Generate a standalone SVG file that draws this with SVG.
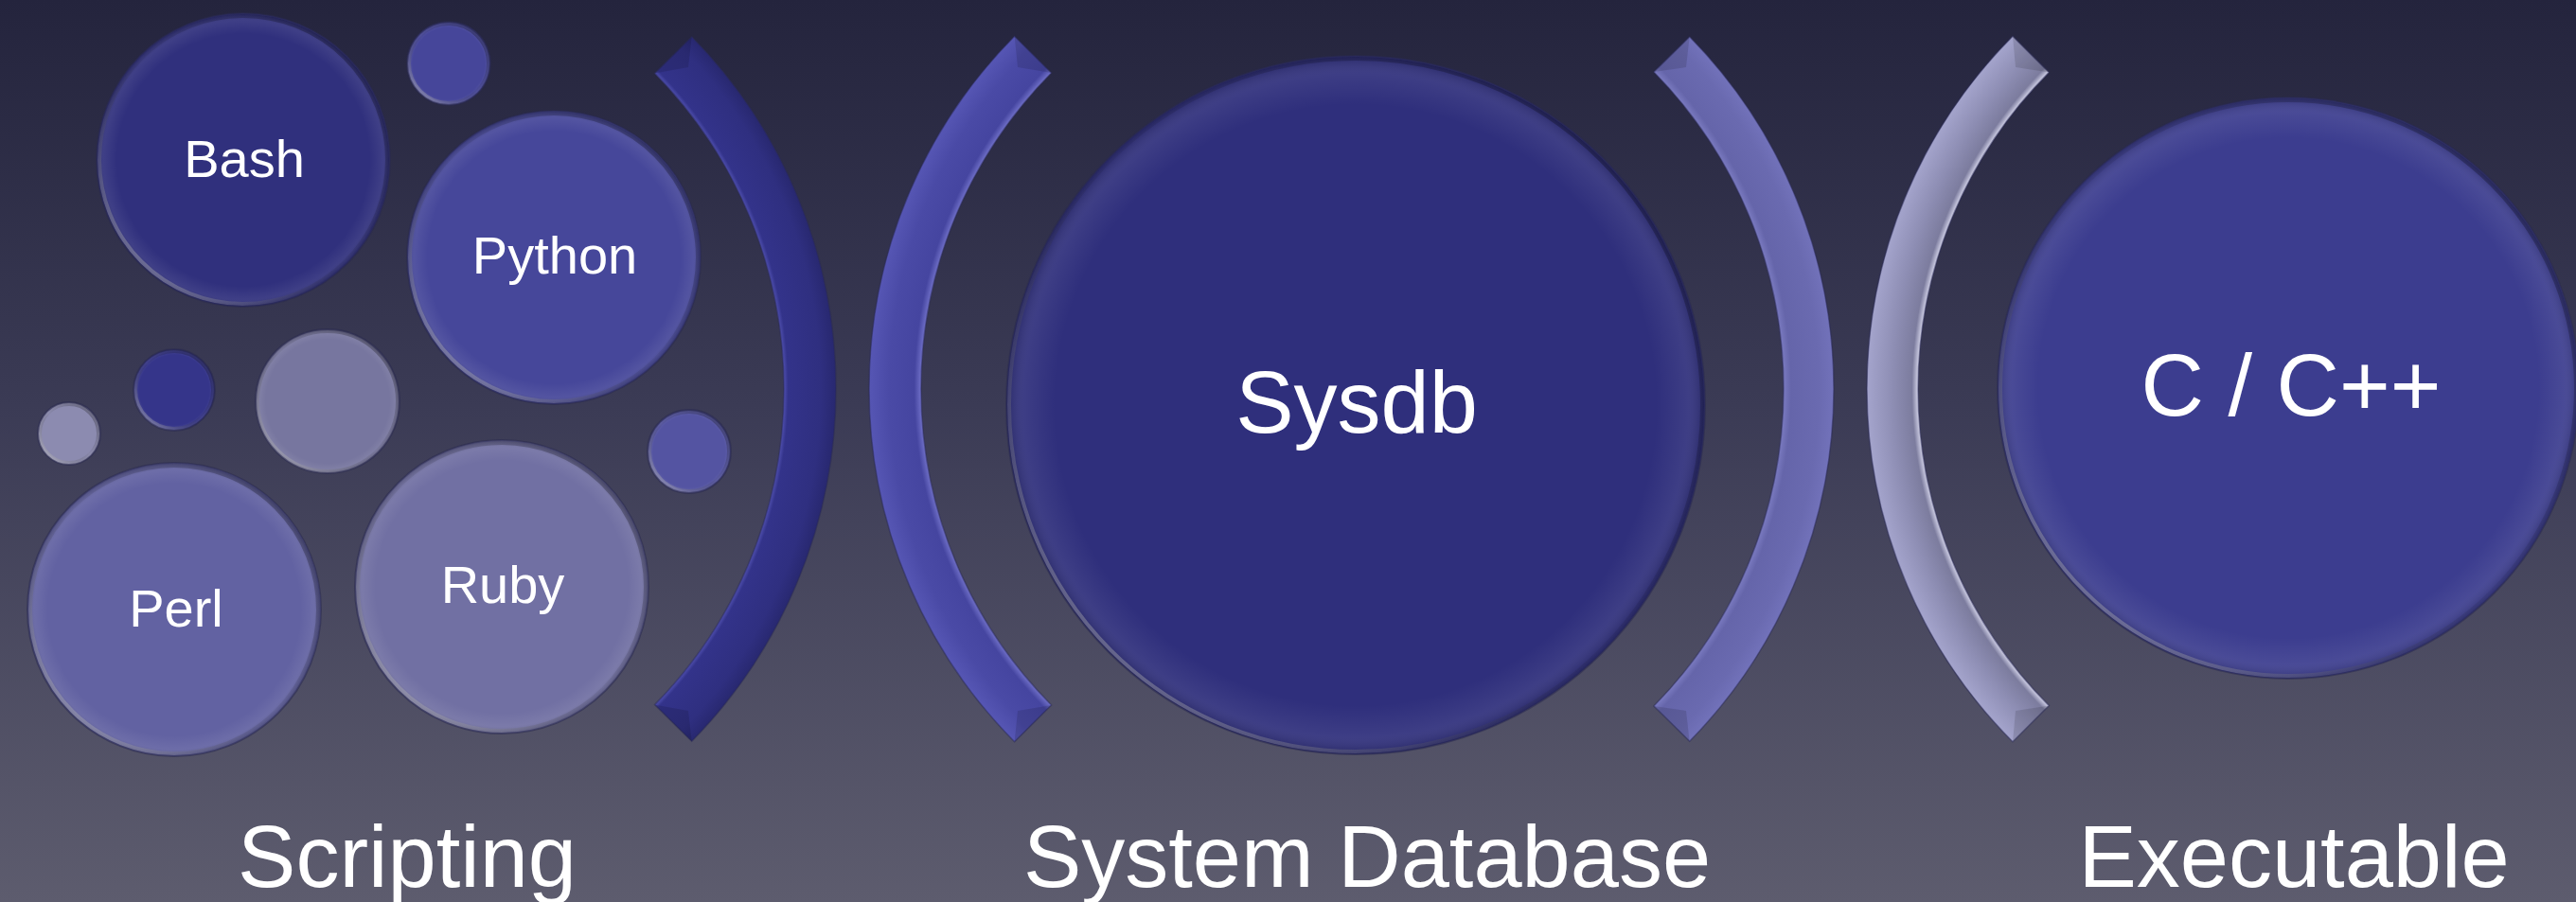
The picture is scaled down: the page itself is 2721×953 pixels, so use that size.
<svg xmlns="http://www.w3.org/2000/svg" width="2721" height="953" viewBox="0 0 2721 953">
  <defs>
    <linearGradient id="bg" x1="0" y1="0" x2="0" y2="1">
      <stop offset="0" stop-color="#24243d"/>
      <stop offset="0.45" stop-color="#3b3b55"/>
      <stop offset="1" stop-color="#5d5c6e"/>
    </linearGradient>
    <!-- directional rim: dark upper-right, light lower-left -->
    <linearGradient id="rim" x1="1" y1="0" x2="0" y2="1">
      <stop offset="0" stop-color="#000" stop-opacity="0.35"/>
      <stop offset="0.5" stop-color="#000" stop-opacity="0.05"/>
      <stop offset="1" stop-color="#fff" stop-opacity="0.55"/>
    </linearGradient>
    <radialGradient id="soft" cx="0.5" cy="0.5" r="0.5">
      <stop offset="0" stop-color="#fff" stop-opacity="0"/>
      <stop offset="0.86" stop-color="#fff" stop-opacity="0"/>
      <stop offset="0.95" stop-color="#fff" stop-opacity="0.07"/>
      <stop offset="1" stop-color="#000" stop-opacity="0.18"/>
    </radialGradient>
    <!-- bracket shading across the band width -->
    <radialGradient id="arcScript" gradientUnits="userSpaceOnUse" cx="352" cy="411" r="531">
      <stop offset="0.896" stop-color="#5050b0"/>
      <stop offset="0.905" stop-color="#33338a"/>
      <stop offset="0.97" stop-color="#2f2f80"/>
      <stop offset="1" stop-color="#282870"/>
    </radialGradient>
    <radialGradient id="arcDbL" gradientUnits="userSpaceOnUse" cx="1447" cy="411" r="529">
      <stop offset="0.896" stop-color="#7070c8"/>
      <stop offset="0.91" stop-color="#4545a0"/>
      <stop offset="0.96" stop-color="#4a4aa6"/>
      <stop offset="1" stop-color="#5656b4"/>
    </radialGradient>
    <radialGradient id="arcDbR" gradientUnits="userSpaceOnUse" cx="1406" cy="411" r="531">
      <stop offset="0.9" stop-color="#7a7ac0"/>
      <stop offset="0.915" stop-color="#6565aa"/>
      <stop offset="0.97" stop-color="#6a6ab0"/>
      <stop offset="1" stop-color="#7272ba"/>
    </radialGradient>
    <radialGradient id="arcExec" gradientUnits="userSpaceOnUse" cx="2500" cy="411" r="528">
      <stop offset="0.898" stop-color="#d0d0e6"/>
      <stop offset="0.91" stop-color="#7c7c9e"/>
      <stop offset="0.95" stop-color="#8e8eb4"/>
      <stop offset="1" stop-color="#a4a4cc"/>
    </radialGradient>
    <style>
      .rim { fill: none; stroke: url(#rim); stroke-width: 4; }
      .soft { fill: url(#soft); }
      .edge { fill: none; stroke: #2a2a50; stroke-opacity: 0.55; stroke-width: 2; }
      .lbl { fill: #ffffff; font-family: "Liberation Sans", Arial, sans-serif; text-anchor: middle; }
      .sm { font-size: 56px; }
      .lg { font-size: 92px; }
      .arc { stroke: #2a2a55; stroke-opacity: 0.5; stroke-width: 1.5; }
      .facet { fill: #000; fill-opacity: 0.12; }
      .facetL { fill: #fff; fill-opacity: 0.12; }
    </style>
  </defs>

  <rect width="2721" height="953" fill="url(#bg)"/>

  <!-- scripting cluster -->
  <g id="bash">
    <circle cx="257" cy="169" r="155" fill="#30307d"/>
    <circle class="soft" cx="257" cy="169" r="155"/>
    <circle class="rim" cx="257" cy="169" r="152"/>
    <circle class="edge" cx="257" cy="169" r="155"/>
    <text class="lbl sm" x="258" y="187">Bash</text>
  </g>
  <g id="dot-top">
    <circle cx="474" cy="67" r="44" fill="#46469a"/>
    <circle class="soft" cx="474" cy="67" r="44"/>
    <circle class="rim" cx="474" cy="67" r="42"/>
    <circle class="edge" cx="474" cy="67" r="44"/>
  </g>
  <g id="python">
    <circle cx="585" cy="272" r="155" fill="#46479a"/>
    <circle class="soft" cx="585" cy="272" r="155"/>
    <circle class="rim" cx="585" cy="272" r="152"/>
    <circle class="edge" cx="585" cy="272" r="155"/>
    <text class="lbl sm" x="586" y="289">Python</text>
  </g>
  <g id="dot-dark">
    <circle cx="184" cy="412" r="43" fill="#35358a"/>
    <circle class="soft" cx="184" cy="412" r="43"/>
    <circle class="rim" cx="184" cy="412" r="41"/>
    <circle class="edge" cx="184" cy="412" r="43"/>
  </g>
  <g id="dot-grey">
    <circle cx="346" cy="424" r="76" fill="#77769f"/>
    <circle class="soft" cx="346" cy="424" r="76"/>
    <circle class="rim" cx="346" cy="424" r="74"/>
    <circle class="edge" cx="346" cy="424" r="76"/>
  </g>
  <g id="dot-tiny">
    <circle cx="73" cy="458" r="33" fill="#8c8bb0"/>
    <circle class="soft" cx="73" cy="458" r="33"/>
    <circle class="rim" cx="73" cy="458" r="31"/>
    <circle class="edge" cx="73" cy="458" r="33"/>
  </g>
  <g id="dot-right">
    <circle cx="728" cy="477" r="44" fill="#5454a2"/>
    <circle class="soft" cx="728" cy="477" r="44"/>
    <circle class="rim" cx="728" cy="477" r="42"/>
    <circle class="edge" cx="728" cy="477" r="44"/>
  </g>
  <g id="perl">
    <circle cx="184" cy="644" r="155" fill="#6262a2"/>
    <circle class="soft" cx="184" cy="644" r="155"/>
    <circle class="rim" cx="184" cy="644" r="152"/>
    <circle class="edge" cx="184" cy="644" r="155"/>
    <text class="lbl sm" x="186" y="662">Perl</text>
  </g>
  <g id="ruby">
    <circle cx="530" cy="620" r="155" fill="#7170a3"/>
    <circle class="soft" cx="530" cy="620" r="155"/>
    <circle class="rim" cx="530" cy="620" r="152"/>
    <circle class="edge" cx="530" cy="620" r="155"/>
    <text class="lbl sm" x="531" y="637">Ruby</text>
  </g>

  <!-- brackets -->
  <g id="brackets">
    <g id="bracket-scripting">
      <path class="arc" fill="url(#arcScript)" d="M 691.5 77.4 L 730.7 38.8 A 531 531 0 0 1 730.7 783.2 L 691.5 744.6 A 476 476 0 0 0 691.5 77.4 Z"/>
      <path class="facet" d="M 691.5 77.4 L 730.7 38.8 L 727 71 Z"/>
      <path class="facet" d="M 691.5 744.6 L 730.7 783.2 L 727 751 Z"/>
    </g>
    <g id="bracket-db-left">
      <path class="arc" fill="url(#arcDbL)" d="M 1110.6 77 L 1071.6 38.3 A 529 529 0 0 0 1071.6 783.7 L 1110.6 745 A 474 474 0 0 1 1110.6 77 Z"/>
      <path class="facet" d="M 1110.6 77 L 1071.6 38.3 L 1075 71 Z"/>
      <path class="facet" d="M 1110.6 745 L 1071.6 783.7 L 1075 751 Z"/>
    </g>
    <g id="bracket-db-right">
      <path class="arc" fill="url(#arcDbR)" d="M 1746.9 76 L 1784.7 38.8 A 531 531 0 0 1 1784.7 783.2 L 1746.9 746 A 478 478 0 0 0 1746.9 76 Z"/>
      <path class="facet" d="M 1746.9 76 L 1784.7 38.8 L 1781 71 Z"/>
      <path class="facet" d="M 1746.9 746 L 1784.7 783.2 L 1781 751 Z"/>
    </g>
    <g id="bracket-exec">
      <path class="arc" fill="url(#arcExec)" d="M 2164.3 76.4 L 2126 38.3 A 528 528 0 0 0 2126 783.7 L 2164.3 745.6 A 474 474 0 0 1 2164.3 76.4 Z"/>
      <path class="facet" d="M 2164.3 76.4 L 2126 38.3 L 2129 71 Z"/>
      <path class="facet" d="M 2164.3 745.6 L 2126 783.7 L 2129 751 Z"/>
    </g>
  </g>

  <g id="sysdb">
    <circle cx="1432" cy="428" r="369" fill="#2f2f7c"/>
    <circle class="soft" cx="1432" cy="428" r="369"/>
    <circle class="rim" cx="1432" cy="428" r="366"/>
    <circle class="edge" cx="1432" cy="428" r="369"/>
    <text class="lbl lg" x="1433" y="457">Sysdb</text>
  </g>

  <g id="cpp">
    <circle cx="2417" cy="410" r="307" fill="#3c3d8f"/>
    <circle class="soft" cx="2417" cy="410" r="307"/>
    <circle class="rim" cx="2417" cy="410" r="304"/>
    <circle class="edge" cx="2417" cy="410" r="307"/>
    <text class="lbl lg" x="2420" y="439">C / C++</text>
  </g>

  <!-- section captions -->
  <g id="captions">
    <text class="lbl lg" x="430" y="937">Scripting</text>
    <text class="lbl lg" x="1444" y="937">System Database</text>
    <text class="lbl lg" x="2423" y="937">Executable</text>
  </g>
</svg>
